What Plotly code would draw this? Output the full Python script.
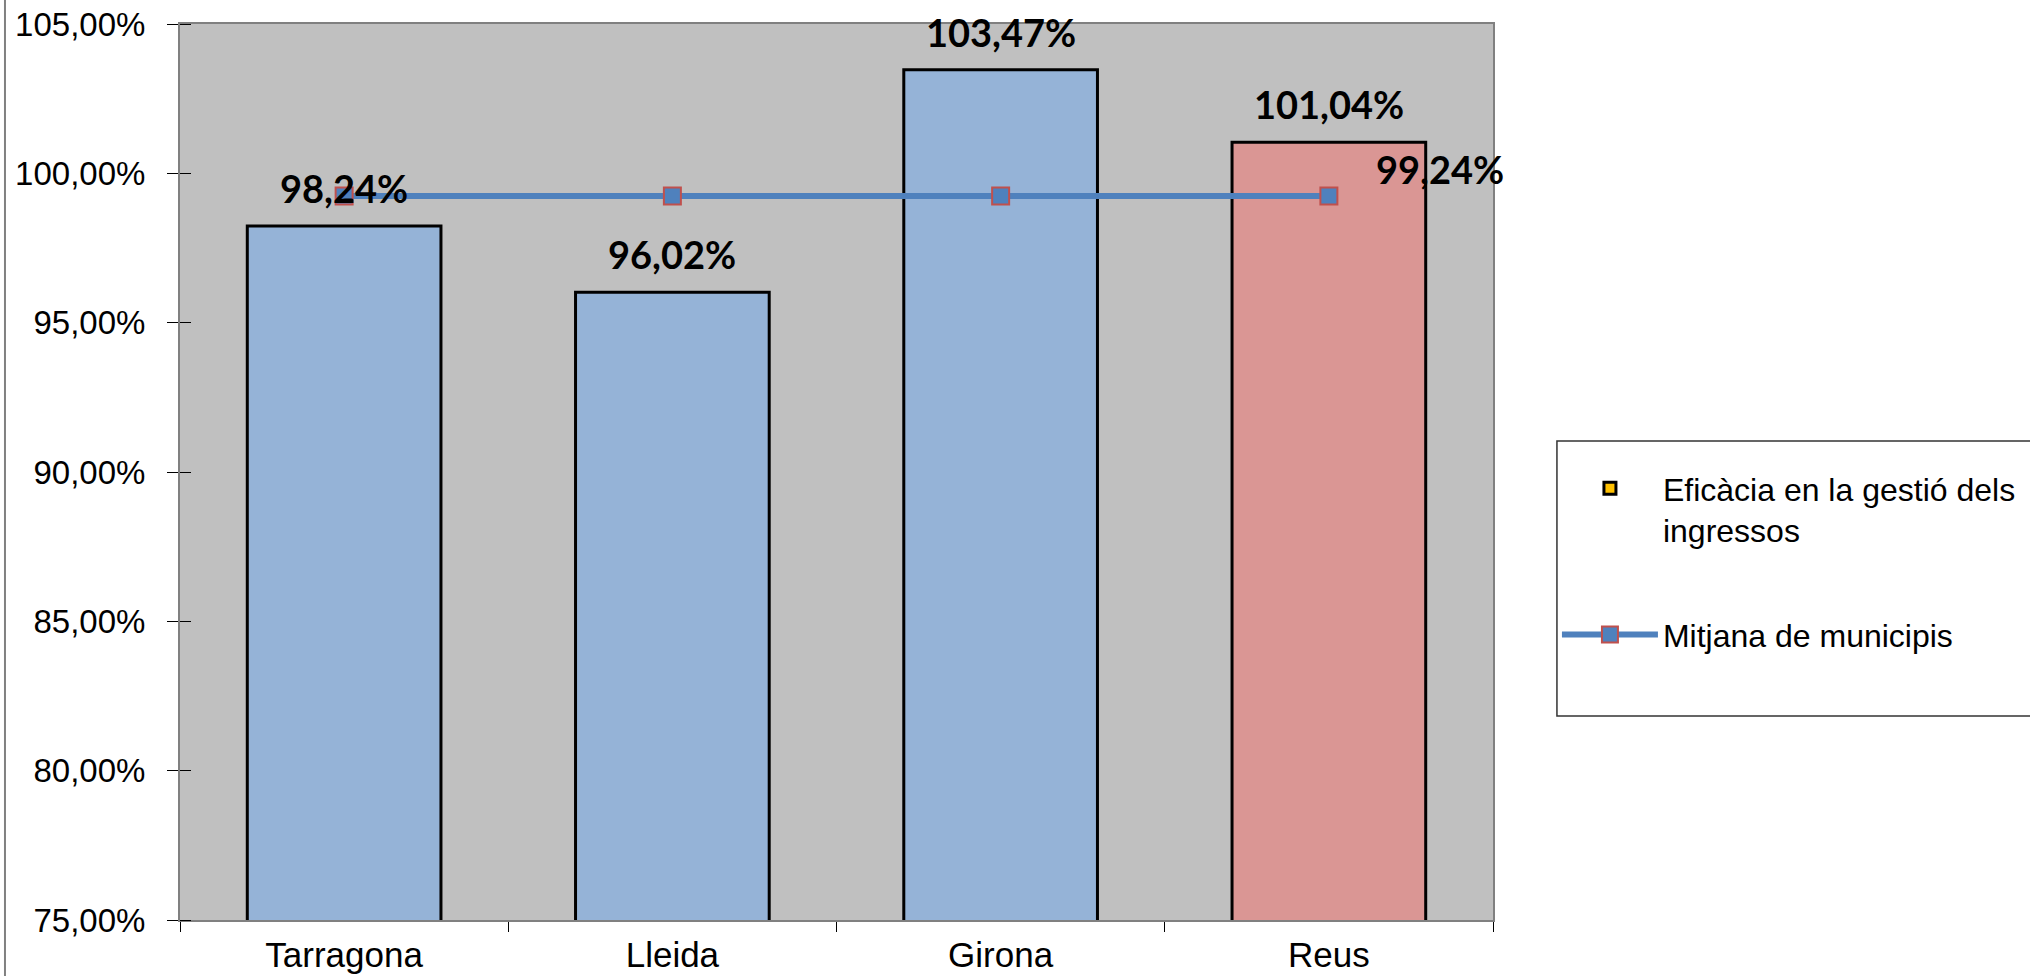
import plotly.graph_objects as go

cities = ["Tarragona", "Lleida", "Girona", "Reus"]
eficacia = [98.24, 96.02, 103.47, 101.04]
mitjana = [99.24, 99.24, 99.24, 99.24]
bar_colors = ["#95B3D7", "#95B3D7", "#95B3D7", "#DA9694"]
y_ticks = [75, 80, 85, 90, 95, 100, 105]

def fmt(v):
    return f"{v:.2f}".replace(".", ",") + "%"

fig = go.Figure()

fig.add_trace(go.Bar(
    x=cities, y=eficacia, width=0.59,
    marker=dict(color=bar_colors, line=dict(color="black", width=3)),
    showlegend=False, name="Eficàcia en la gestió dels ingressos",
))
# legend entry (Excel default series colour)
fig.add_trace(go.Bar(
    x=[cities[0]], y=[None],
    marker=dict(color="#FFC000", line=dict(color="black", width=3)),
    name="Eficàcia en la gestió dels<br>ingressos", legendgroup="a",
))
fig.add_trace(go.Scatter(
    x=cities, y=mitjana, mode="lines+markers",
    line=dict(color="#4F81BD", width=6),
    marker=dict(symbol="square", size=17, color="#4F81BD",
                line=dict(color="#C0504D", width=2)),
    name="Mitjana de municipis", legendgroup="b",
))

lab_font = dict(family="Lato", size=38, color="black", weight="bold")
annotations = []
for c, v in zip(cities, eficacia):
    annotations.append(dict(x=c, y=v, text=fmt(v), showarrow=False, yshift=38,
                            font=lab_font))
annotations.append(dict(x=cities[-1], y=mitjana[-1], text=fmt(mitjana[-1]), showarrow=False,
                        xshift=111, yshift=27, font=lab_font))

fig.update_layout(
    width=2030, height=976,
    margin=dict(l=180, r=537, t=24, b=56, autoexpand=False),
    paper_bgcolor="white", plot_bgcolor="#C0C0C0",
    barmode="overlay", separators=",.",
    font=dict(family="Liberation Sans", size=32, color="black"),
    annotations=annotations,
    legend=dict(x=1.0487, y=0.5123, xanchor="left", yanchor="top",
                bgcolor="rgba(0,0,0,0)", borderwidth=0,
                font=dict(size=32), valign="top", tracegroupgap=60,
                itemwidth=96),
    shapes=[
        dict(type="line", xref="paper", yref="paper", x0=-0.1333, x1=-0.1333,
             y0=-0.07, y1=1.03, line=dict(color="#808080", width=2)),
        dict(type="rect", xref="paper", yref="paper", x0=1.0487, x1=1.6,
             y0=0.2277, y1=0.5346, line=dict(color="#333333", width=1.5)),
    ],
)
fig.update_xaxes(type="category", range=[-0.5, 3.5], ticks="outside", tickson="boundaries",
                 ticklen=10, tickcolor="black", showline=True, linecolor="#808080",
                 linewidth=2, mirror=True, showgrid=False, tickfont=dict(size=35),
                 ticklabelstandoff=3, automargin=False)
fig.update_yaxes(range=[75, 105], tickvals=y_ticks, ticktext=[fmt(v) for v in y_ticks],
                 ticks="outside", ticklen=11, tickcolor="black", showline=True,
                 linecolor="#808080", linewidth=2, mirror=True, showgrid=False,
                 zeroline=False, tickfont=dict(size=33), ticklabelstandoff=15,
                 automargin=False,
                 minor=dict(tickvals=y_ticks, ticks="inside", ticklen=11, tickcolor="black"))

fig.write_html("out.html", config={"displayModeBar": False},
               post_script="document.body.style.margin='0';")
